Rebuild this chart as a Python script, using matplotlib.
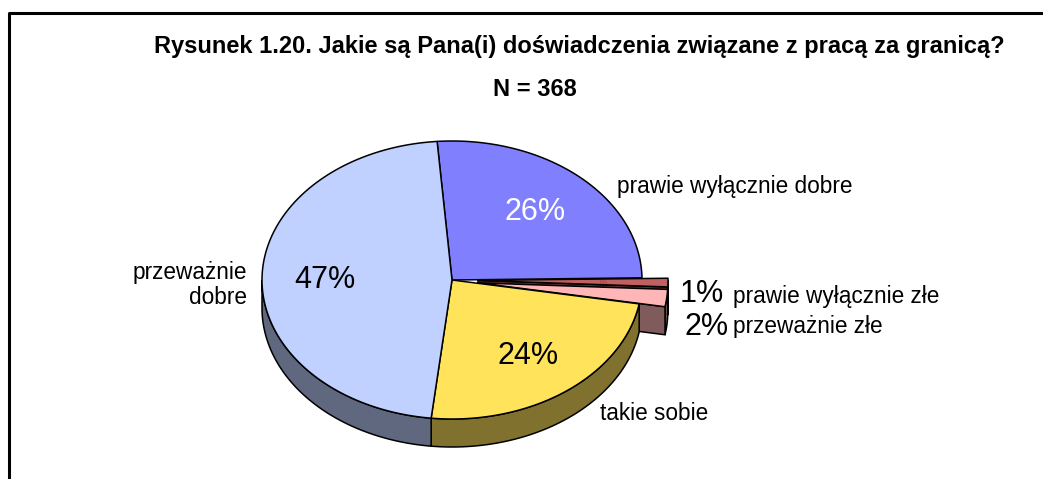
import numpy as np
import matplotlib
matplotlib.use("Agg")
import matplotlib.pyplot as plt

plt.rcParams['font.family'] = ['Liberation Sans', 'DejaVu Sans']

# ---- data ----
categories = ["prawie wyłącznie dobre", "prawie wyłącznie złe", "przeważnie złe",
              "takie sobie", "przeważnie\ndobre"]
values = [26, 1, 2, 24, 47]
pct_labels = ["26%", "1%", "2%", "24%", "47%"]
colors = ["#8080FF", "#C06060", "#FFB6B6", "#FFE35B", "#C0D0FF"]
explode = [0, 1, 1, 0, 0]
title = "Rysunek 1.20. Jakie są Pana(i) doświadczenia związane z pracą za granicą?"
subtitle = "N = 368"

W, H = 1043, 479
fig = plt.figure(figsize=(W / 100, H / 100), dpi=100)
ax = fig.add_axes([0, 0, 1, 1])
ax.set_xlim(0, W)
ax.set_ylim(H, 0)  # image-like coordinates
ax.axis('off')

# frame (top and left visible)
ax.plot([9, 9, W + 5], [H + 5, 13, 13], color='black', lw=2.2, solid_capstyle='projecting')

# geometry
cx, cy = 452, 280
rx, ry = 190, 139
depth = 28
exp_dist = 26
start = 94.5  # degrees, clockwise direction

def darker(c, f=0.5):
    c = matplotlib.colors.to_rgb(c)
    return tuple(v * f for v in c)

fr = np.array(values, dtype=float) / sum(values)
bounds = start - 360 * np.concatenate([[0], np.cumsum(fr)])

slices = []
for i in range(len(values)):
    a0, a1 = bounds[i], bounds[i + 1]  # a0 > a1
    mid = np.radians((a0 + a1) / 2)
    ox = exp_dist * explode[i] * np.cos(mid)
    oy = -exp_dist * explode[i] * np.sin(mid)
    slices.append((a0, a1, ox, oy))

def pt(t, ox, oy, dz=0):
    return cx + ox + rx * np.cos(t), cy + oy - ry * np.sin(t) + dz

def draw_walls(i):
    a0, a1, ox, oy = slices[i]
    side = darker(colors[i])
    lo, hi = a1, a0
    segs = []
    for k in range(-2, 2):
        s_lo = max(lo, -180 + 360 * k)
        s_hi = min(hi, 0 + 360 * k)
        if s_lo < s_hi:
            segs.append((s_lo, s_hi))
    for s_lo, s_hi in segs:
        t = np.radians(np.linspace(s_lo, s_hi, 80))
        xt, yt = pt(t, ox, oy)
        xb, yb = pt(t[::-1], ox, oy, depth)
        ax.fill(np.r_[xt, xb], np.r_[yt, yb], facecolor=side, edgecolor='black', lw=1.1, zorder=2)
    if explode[i]:
        for ang, sign in ((a1, -1), (a0, 1)):
            t = np.radians(ang)
            n = t + sign * np.pi / 2
            if np.sin(n) < 0:
                x0, y0 = cx + ox, cy + oy
                x1, y1 = pt(t, ox, oy)
                ax.fill([x0, x1, x1, x0], [y0, y1, y1 + depth, y0 + depth],
                        facecolor=side, edgecolor='black', lw=1.1, zorder=2)

def draw_top(i):
    a0, a1, ox, oy = slices[i]
    t = np.radians(np.linspace(a0, a1, 200))
    x, y = pt(t, ox, oy)
    ax.fill(np.r_[cx + ox, x], np.r_[cy + oy, y], facecolor=colors[i],
            edgecolor='black', lw=1.1, zorder=3, joinstyle='round')

for i in range(len(values)):
    if explode[i]:
        draw_walls(i)
        draw_top(i)
for i in range(len(values)):
    if not explode[i]:
        draw_walls(i)
for i in range(len(values)):
    if not explode[i]:
        draw_top(i)

pct_fs = 22
lab_fs = 16.3

# percent labels inside
inner = {0: (535, 212, 'white'), 4: (325, 280, 'black'), 3: (528, 356, 'black')}
for i, (x, y, c) in inner.items():
    ax.text(x, y, pct_labels[i], ha='center', va='center', fontsize=pct_fs, color=c, zorder=5)
ax.text(603, 283, pct_labels[1], ha='center', va='center', fontsize=4.5, color='#A04040', zorder=5)

# category labels
ax.text(617, 186, categories[0], ha='left', va='center', fontsize=lab_fs, zorder=5)
ax.text(247, 285, categories[4], ha='right', va='center', fontsize=lab_fs,
        multialignment='right', linespacing=1.1, zorder=5)
ax.text(600, 414, categories[3], ha='left', va='center', fontsize=lab_fs, zorder=5)
ax.text(680, 294, pct_labels[1], ha='left', va='center', fontsize=pct_fs, zorder=5)
ax.text(733, 297, categories[1], ha='left', va='center', fontsize=lab_fs, zorder=5)
ax.text(684, 327, pct_labels[2], ha='left', va='center', fontsize=pct_fs, zorder=5)
ax.text(733, 326, categories[2], ha='left', va='center', fontsize=lab_fs, zorder=5)

# titles
ax.text(579, 46, title, ha='center', va='center', fontsize=17, fontweight='bold')
ax.text(535, 89, subtitle, ha='center', va='center', fontsize=17, fontweight='bold')

fig.savefig("out.png", dpi=100)
